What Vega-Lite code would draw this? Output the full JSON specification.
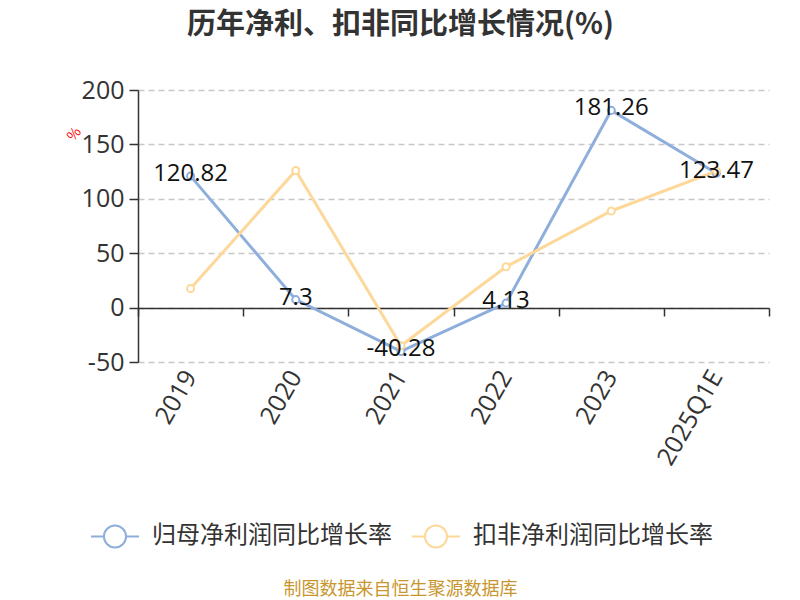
{
  "$schema": "https://vega.github.io/schema/vega-lite/v6.json",
  "width": 631,
  "height": 272,
  "autosize": {"type": "none"},
  "padding": {"left": 138, "top": 90, "right": 31, "bottom": 238},
  "background": "white",
  "config": {
    "font": "Noto Sans CJK SC",
    "view": {"stroke": null}
  },
  "title": {
    "text": "历年净利、扣非同比增长情况(%)",
    "fontSize": 29,
    "fontWeight": "bold",
    "color": "#333333",
    "anchor": "middle",
    "dx": -53,
    "offset": 38,
    "font": "Noto Sans CJK SC"
  },
  "data": {
    "values": [
      {"year": "2019", "series": "归母净利润同比增长率", "value": 120.82},
      {"year": "2020", "series": "归母净利润同比增长率", "value": 7.3},
      {"year": "2021", "series": "归母净利润同比增长率", "value": -40.28},
      {"year": "2022", "series": "归母净利润同比增长率", "value": 4.13},
      {"year": "2023", "series": "归母净利润同比增长率", "value": 181.26},
      {"year": "2025Q1E", "series": "归母净利润同比增长率", "value": 123.47},
      {"year": "2019", "series": "扣非净利润同比增长率", "value": 17.5},
      {"year": "2020", "series": "扣非净利润同比增长率", "value": 126.0},
      {"year": "2021", "series": "扣非净利润同比增长率", "value": -35.0},
      {"year": "2022", "series": "扣非净利润同比增长率", "value": 37.5},
      {"year": "2023", "series": "扣非净利润同比增长率", "value": 88.8},
      {"year": "2025Q1E", "series": "扣非净利润同比增长率", "value": 125.5}
    ]
  },
  "layer": [
    {
      "mark": {"type": "line", "strokeWidth": 3},
      "encoding": {
        "x": {
          "field": "year", "type": "nominal", "sort": null,
          "scale": {"paddingInner": 0, "paddingOuter": 0},
          "axis": {
            "orient": "bottom",
            "domain": false,
            "ticks": false,
            "grid": false,
            "labelAngle": -60,
            "labelFontSize": 25,
            "labelColor": "#333333",
            "labelPadding": 10,
            "labelFont": "Open Sans",
            "title": "制图数据来自恒生聚源数据库",
            "titleColor": "#c8962e",
            "titleFontSize": 18,
            "titleFontWeight": "normal",
            "titleFont": "Noto Sans CJK SC",
            "titleX": 262,
            "titleY": 227,
            "titleAlign": "center",
            "titleBaseline": "middle"
          }
        },
        "y": {
          "field": "value", "type": "quantitative",
          "scale": {"domain": [-50, 200], "nice": false, "zero": false},
          "axis": {
            "values": [-50, 0, 50, 100, 150, 200],
            "labelExpr": "replace(datum.label, '−', '-')",
            "domainColor": "#333333",
            "domainWidth": 1.5,
            "tickColor": "#333333",
            "tickSize": 9,
            "tickWidth": 1.5,
            "labelFontSize": 25,
            "labelColor": "#333333",
            "labelPadding": 5,
            "labelFont": "Open Sans",
            "gridColor": "#c8c8c8",
            "gridDash": [6, 4],
            "gridWidth": 1.5,
            "title": "%",
            "titleColor": "#ff0000",
            "titleFontSize": 14,
            "titleFontWeight": "normal",
            "titleAngle": -50,
            "titleX": -64,
            "titleY": 44,
            "titleAlign": "center",
            "titleBaseline": "middle"
          }
        },
        "color": {
          "field": "series", "type": "nominal",
          "sort": ["归母净利润同比增长率", "扣非净利润同比增长率"],
          "scale": {"domain": ["归母净利润同比增长率", "扣非净利润同比增长率"], "range": ["#8eaedc", "#fdd89a"]},
          "legend": {
            "orient": "none",
            "legendX": -48,
            "legendY": 421,
            "direction": "horizontal",
            "title": null,
            "symbolType": "M-1,0L-0.46,0M1,0L0.46,0M0.46,0A0.46,0.46 0 1 1 -0.46,0A0.46,0.46 0 1 1 0.46,0",
            "symbolSize": 2304,
            "symbolStrokeWidth": 2,
            "symbolFillColor": "white",
            "labelFontSize": 24,
            "labelColor": "#333333",
            "labelOffset": 12,
            "labelLimit": 400,
            "columnPadding": 16
          }
        }
      }
    },
    {
      "mark": {"type": "point", "filled": true, "fill": "white", "size": 50, "strokeWidth": 2, "opacity": 1},
      "encoding": {
        "x": {
          "field": "year", "type": "nominal", "sort": null,
          "axis": {
            "orient": "bottom",
            "offset": -54,
            "labels": false,
            "grid": false,
            "domainColor": "#333333",
            "domainWidth": 1.5,
            "tickColor": "#333333",
            "tickWidth": 1.5,
            "tickSize": 8,
            "tickBand": "extent",
            "bandPosition": 1,
            "title": null
          }
        },
        "y": {"field": "value", "type": "quantitative"},
        "stroke": {"field": "series", "type": "nominal", "legend": null,
          "scale": {"domain": ["归母净利润同比增长率", "扣非净利润同比增长率"], "range": ["#8eaedc", "#fdd89a"]}}
      }
    },
    {
      "transform": [{"filter": "datum.series === '归母净利润同比增长率'"}],
      "mark": {"type": "text", "fontSize": 24, "color": "#111111", "baseline": "middle", "dy": -2, "font": "Open Sans"},
      "encoding": {
        "x": {"field": "year", "type": "nominal", "sort": null, "axis": null},
        "y": {"field": "value", "type": "quantitative"},
        "text": {"field": "value", "type": "nominal"}
      }
    }
  ],
  "resolve": {"axis": {"x": "independent"}}
}
